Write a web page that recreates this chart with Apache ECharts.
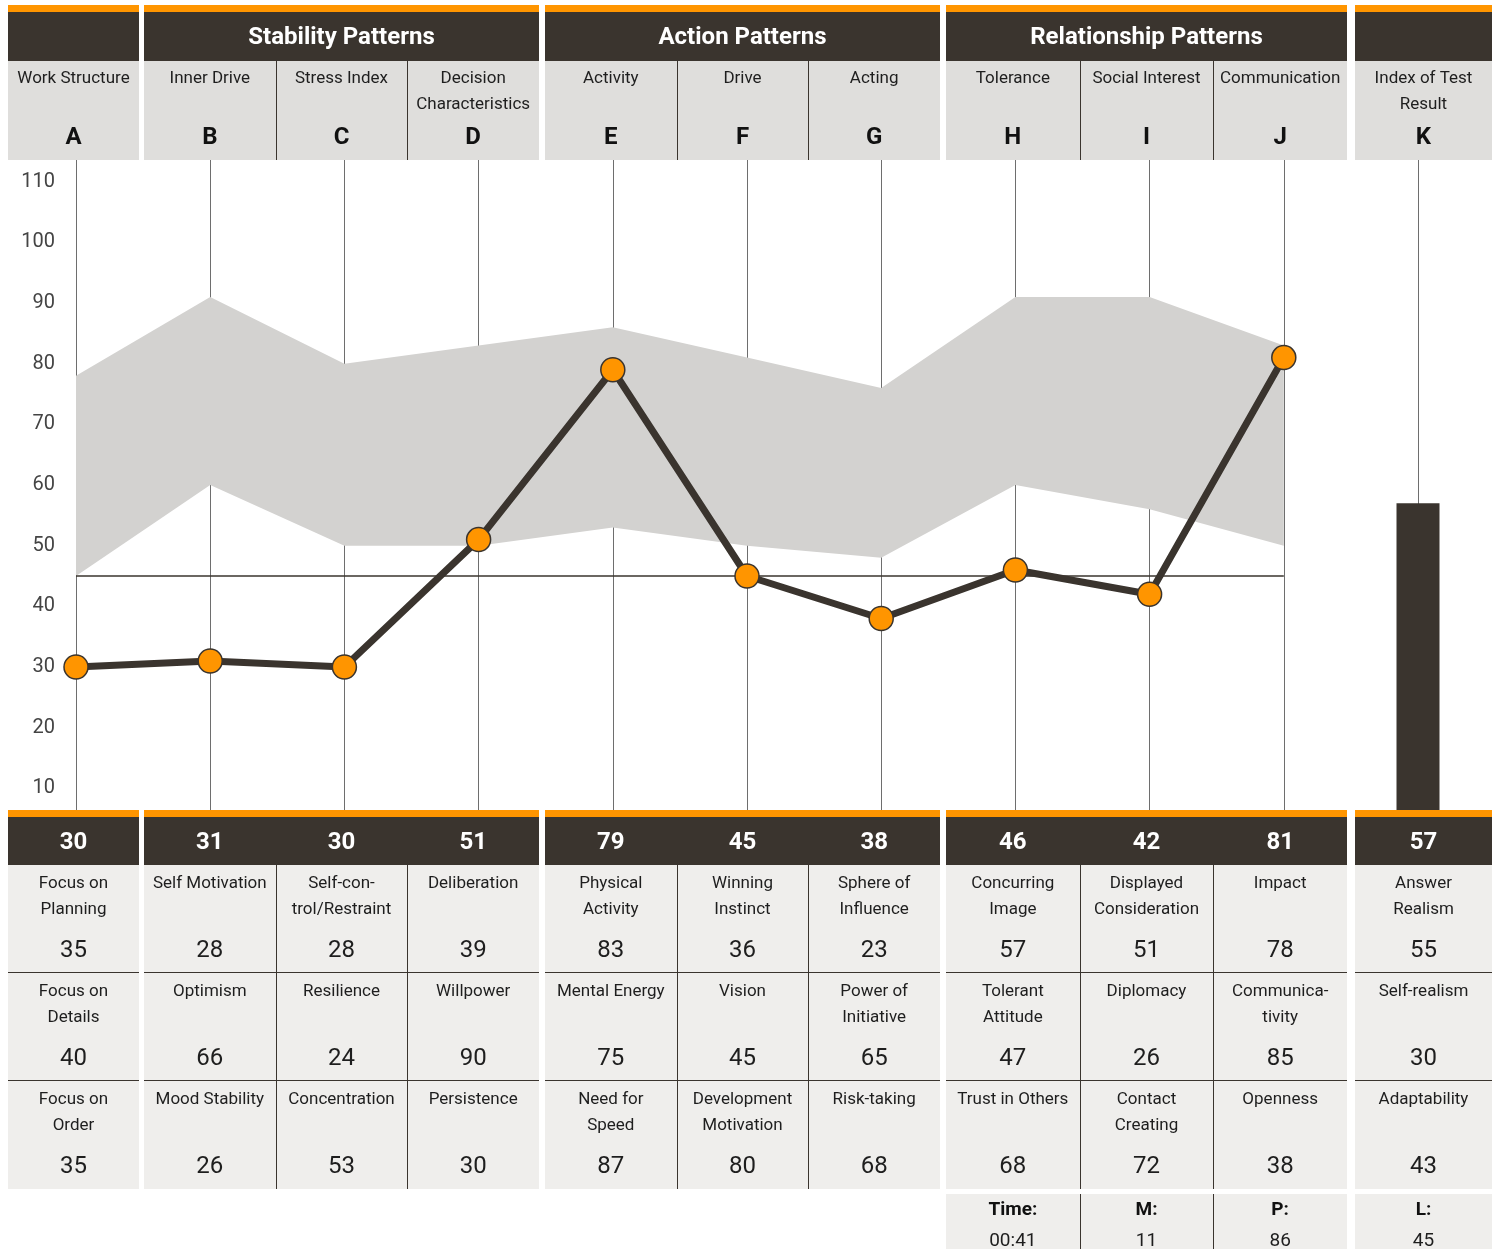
<!DOCTYPE html>
<html>
<head>
<meta charset="utf-8">
<script src="https://cdn.jsdelivr.net/npm/echarts@6/dist/echarts.min.js"></script>
<style>
  html, body { margin: 0; padding: 0; background: #fff; }
  #chart { width: 1500px; height: 1249px; }
</style>
</head>
<body>
<div id="chart"></div>
<script>
// categories / header texts
const letters = ['A', 'B', 'C', 'D', 'E', 'F', 'G', 'H', 'I', 'J', 'K'];
const groupTitles = ['', 'Stability Patterns', 'Action Patterns', 'Relationship Patterns', ''];
const groupColumns = [1, 3, 3, 3, 1];
const traitNames = ['Work Structure', 'Inner Drive', 'Stress Index', 'Decision\nCharacteristics',
  'Activity', 'Drive', 'Acting', 'Tolerance', 'Social Interest', 'Communication', 'Index of Test\nResult'];

// profile values (A-J) and test index (K)
const scores = [30, 31, 30, 51, 79, 45, 38, 46, 42, 81];
const testIndex = 57;
const normValue = 45;
const bandLow = [45, 60, 50, 50, 53, 50, 48, 60, 56, 50];
const bandHigh = [78, 91, 80, 83, 86, 81, 76, 91, 91, 83];
const yTicks = [10, 20, 30, 40, 50, 60, 70, 80, 90, 100, 110];

// sub scales under each column
const row1Names = ['Focus on\nPlanning', 'Self Motivation', 'Self-con-\ntrol/Restraint', 'Deliberation', 'Physical\nActivity',
  'Winning\nInstinct', 'Sphere of\nInfluence', 'Concurring\nImage', 'Displayed\nConsideration', 'Impact', 'Answer\nRealism'];
const row1Values = [35, 28, 28, 39, 83, 36, 23, 57, 51, 78, 55];
const row2Names = ['Focus on\nDetails', 'Optimism', 'Resilience', 'Willpower', 'Mental Energy', 'Vision',
  'Power of\nInitiative', 'Tolerant\nAttitude', 'Diplomacy', 'Communica-\ntivity', 'Self-realism'];
const row2Values = [40, 66, 24, 90, 75, 45, 65, 47, 26, 85, 30];
const row3Names = ['Focus on\nOrder', 'Mood Stability', 'Concentration', 'Persistence', 'Need for\nSpeed',
  'Development\nMotivation', 'Risk-taking', 'Trust in Others', 'Contact\nCreating', 'Openness', 'Adaptability'];
const row3Values = [35, 26, 53, 30, 87, 80, 68, 68, 72, 38, 43];
const footerLabels = ['Time:', 'M:', 'P:', 'L:'];
const footerValues = ['00:41', '11', '86', '45'];

// colours
const DARK = '#3a342e';
const ORANGE = '#ff9500';
const HEAD_GRAY = '#dfdedc';
const CELL_GRAY = '#efeeec';
const FONT = 'Roboto';

// block layout in pixels
const blockX = [8, 144, 545, 946, 1355];
const blockW = [131, 395, 395, 401, 137];

const chart = echarts.init(document.getElementById('chart'));

// column geometry
const cols = [];
groupColumns.forEach((n, g) => {
  const w = blockW[g] / n;
  for (let j = 0; j < n; j++) {
    cols.push({ x: blockX[g] + w * j, w: w, cx: blockX[g] + w * (j + 0.5), first: j === 0, group: g });
  }
});

const els = [];
function rect(x, y, w, h, fill) {
  els.push({ type: 'rect', z: 100, silent: true, shape: { x: x, y: y, width: w, height: h }, style: { fill: fill } });
}
function vline(x, y1, y2, color) {
  x = Math.round(x) + 0.5;
  els.push({ type: 'line', z: 101, silent: true, shape: { x1: x, y1: y1, x2: x, y2: y2 }, style: { stroke: color, lineWidth: 1 } });
}
function hline(x1, x2, y, color) {
  els.push({ type: 'line', z: 101, silent: true, shape: { x1: x1, y1: y, x2: x2, y2: y }, style: { stroke: color, lineWidth: 1 } });
}
function text(x, y, str, size, weight, color, va) {
  va = va || 'middle';
  els.push({
    type: 'text', z: 102, silent: true,
    style: {
      text: String(str), x: x, y: y, fill: color,
      font: weight + ' ' + size + 'px ' + FONT,
      align: 'center', textAlign: 'center',
      verticalAlign: va, textVerticalAlign: va, lineHeight: 26
    }
  });
}

// header and bottom table blocks
groupColumns.forEach((n, g) => {
  rect(blockX[g], 5, blockW[g], 7, ORANGE);
  rect(blockX[g], 12, blockW[g], 49, DARK);
  rect(blockX[g], 61, blockW[g], 99, HEAD_GRAY);
  if (groupTitles[g]) text(blockX[g] + blockW[g] / 2, 38, groupTitles[g], 24, 'bold', '#fff');
  rect(blockX[g], 810, blockW[g], 7, ORANGE);
  rect(blockX[g], 817, blockW[g], 48, DARK);
  rect(blockX[g], 865, blockW[g], 324, CELL_GRAY);
  hline(blockX[g], blockX[g] + blockW[g], 972.5, DARK);
  hline(blockX[g], blockX[g] + blockW[g], 1080.5, DARK);
});
// footer row under H-J and K
rect(blockX[3], 1194, blockW[3], 60, CELL_GRAY);
rect(blockX[4], 1194, blockW[4], 60, CELL_GRAY);

const bottomScores = scores.concat([testIndex]);
const rowNames = [row1Names, row2Names, row3Names];
const rowValues = [row1Values, row2Values, row3Values];
cols.forEach((c, i) => {
  if (!c.first) {
    vline(c.x, 61, 160, DARK);
    vline(c.x, 865, 1189, DARK);
  }
  text(c.cx, 66, traitNames[i], 17, 'normal', '#1e1e1e', 'top');
  text(c.cx, 138, letters[i], 24, 'bold', '#111');
  text(c.cx, 843, bottomScores[i], 24, 'bold', '#fff');
  for (let r = 0; r < 3; r++) {
    const top = 865 + r * 108;
    text(c.cx, top + 6, rowNames[r][i], 17, 'normal', '#1e1e1e', 'top');
    text(c.cx, top + 86, rowValues[r][i], 24, 'normal', '#1e1e1e');
  }
});
footerLabels.forEach((lab, k) => {
  const c = cols[7 + k];
  if (k > 0 && k < 3) vline(c.x, 1194, 1249, DARK);
  text(c.cx, 1210, lab, 19, 'bold', '#111');
  text(c.cx, 1241, footerValues[k], 19, 'normal', '#1e1e1e');
});

chart.setOption({
  animation: false,
  backgroundColor: '#fff',
  grid: { left: 76, right: 82, top: 121, bottom: 400, containLabel: false },
  xAxis: {
    type: 'category',
    data: letters,
    boundaryGap: false,
    axisLine: { show: false },
    axisTick: { show: false },
    axisLabel: { show: false },
    splitLine: { show: true, interval: 0, lineStyle: { color: '#6e6e6e', width: 1 } }
  },
  yAxis: {
    type: 'value',
    min: 0,
    max: 120,
    interval: 10,
    axisLine: { show: false },
    axisTick: { show: false },
    splitLine: { show: false },
    axisLabel: {
      margin: 21,
      fontFamily: FONT,
      fontSize: 20,
      color: '#444',
      padding: [0, 0, 12, 0],
      formatter: v => (yTicks.indexOf(v) >= 0 ? String(v) : '')
    }
  },
  series: [
    {
      name: 'bandLow',
      type: 'line',
      stack: 'band',
      data: bandLow,
      symbol: 'none',
      silent: true,
      lineStyle: { width: 0 },
      z: 1,
      markLine: {
        silent: true,
        symbol: 'none',
        label: { show: false },
        lineStyle: { color: DARK, width: 1.5, type: 'solid' },
        data: [[{ coord: ['A', normValue] }, { coord: ['J', normValue] }]]
      }
    },
    {
      name: 'band',
      type: 'line',
      stack: 'band',
      data: bandHigh.map((v, i) => v - bandLow[i]),
      symbol: 'none',
      silent: true,
      lineStyle: { width: 0 },
      areaStyle: { color: '#d3d2d0', opacity: 1 },
      z: 1
    },
    {
      name: 'Test index',
      type: 'bar',
      data: [['K', testIndex]],
      barWidth: 43,
      itemStyle: { color: DARK },
      z: 2
    },
    {
      name: 'Profile',
      type: 'line',
      data: scores,
      symbol: 'circle',
      symbolSize: 24,
      lineStyle: { color: DARK, width: 7 },
      itemStyle: { color: ORANGE, borderColor: DARK, borderWidth: 1.5 },
      z: 5
    }
  ],
  graphic: { elements: els }
});
</script>
</body>
</html>
